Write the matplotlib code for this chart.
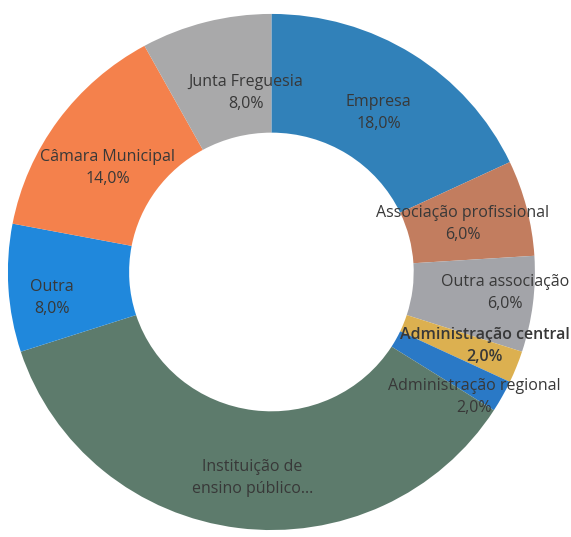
import numpy as np
import matplotlib.pyplot as plt

# dados (sentido horario a partir do topo)
labels = ['Empresa', 'Associação profissional', 'Outra associação',
          'Administração central', 'Administração regional',
          'Instituição de\nensino público...', 'Outra', 'Câmara Municipal',
          'Junta Freguesia']
values = [18, 6, 6, 2, 2, 36, 8, 14, 8]
show_pct = [True, True, True, True, True, False, True, True, True]
colors = ['#3181b9', '#c27d5f', '#a3a4a9', '#dcb050', '#2a79c6',
          '#5d7b6c', '#2088dc', '#f4814c', '#a9a9aa']
label_r = [0.74, 0.75, 0.89, 0.86, 0.91, 0.8, 0.84, 0.74, 0.70]
label_da = [-1, 0, 2, 2, -3.4, 2, 3.2, 3, -6.4]
bold = [False, False, False, True, False, False, False, False, False]

plt.rcParams['font.family'] = ['Open Sans', 'DejaVu Sans']

fig = plt.figure(figsize=(5.71, 5.37), dpi=100)
ax = fig.add_axes([0, 0, 1, 1])

wedges, _ = ax.pie(values, colors=colors, startangle=90, counterclock=False,
                   radius=1.0, wedgeprops=dict(width=0.46, linewidth=0))

total = sum(values)
for w, lab, v, sp, r, da, b in zip(wedges, labels, values, show_pct,
                                   label_r, label_da, bold):
    ang = np.deg2rad((w.theta1 + w.theta2) / 2 + da)
    txt = lab + ('\n%.1f%%' % (100.0 * v / total)).replace('.', ',') if sp else lab
    ax.text(r * np.cos(ang), r * np.sin(ang), txt, ha='center', va='center',
            fontsize=11.5, color='#383838', linespacing=1.5,
            fontweight='semibold' if b else 'normal')

ax.set_aspect('auto')
ax.set_xlim(-1.030, 1.137)
ax.set_ylim(-1.027, 1.054)
ax.axis('off')

fig.savefig('out.png', dpi=100, facecolor='white')
